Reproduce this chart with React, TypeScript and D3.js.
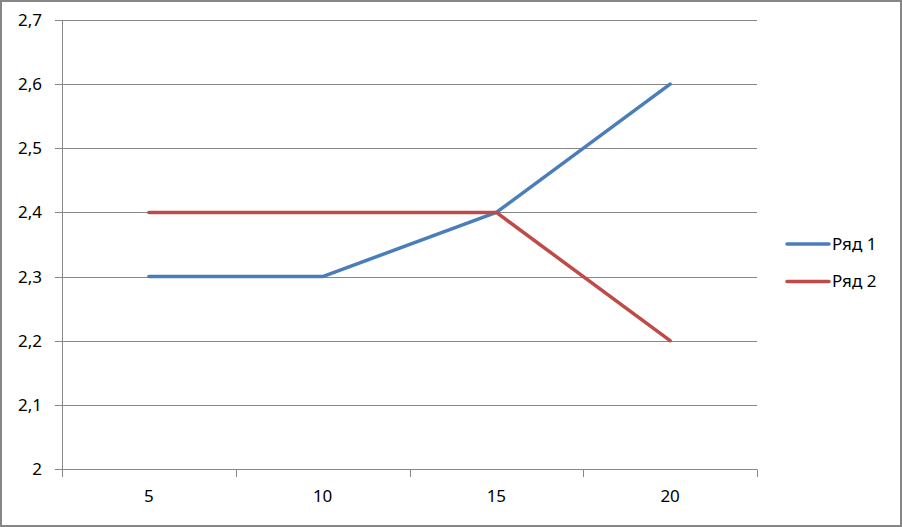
import * as React from 'react';
import * as d3 from 'd3';

const categories = ['5', '10', '15', '20'];
const seriesNames = ['Ряд 1', 'Ряд 2'];
const series1 = [2.3, 2.3, 2.4, 2.6];
const series2 = [2.4, 2.4, 2.4, 2.2];
const yTicks = [2, 2.1, 2.2, 2.3, 2.4, 2.5, 2.6, 2.7];
const colors = ['#4a7ebb', '#be4b48'];

const width = 902;
const height = 527;
const plot = { left: 62, right: 757, top: 20, bottom: 469 };
const font = '"Noto Sans", sans-serif';
const gridColor = '#868686';

const fmt = (v: number) => (Math.round(v * 10) / 10).toString().replace('.', ',');
const crisp = (v: number) => Math.round(v) + 0.5;

export default function App() {
    const x = d3.scalePoint<string>()
        .domain(categories)
        .range([plot.left, plot.right])
        .padding(0.5);
    const step = x.step();

    const y = d3.scaleLinear()
        .domain([2, 2.7])
        .range([plot.bottom, plot.top]);

    const line = d3.line<number>()
        .x((d, i) => x(categories[i]) as number)
        .y(d => y(d));

    const allSeries = [series1, series2];
    const boundaries = d3.range(categories.length + 1).map(i => plot.left + i * step);

    return (
        <svg width={width} height={height} style={{ position: 'absolute', left: 0, top: 0, background: '#fff' }}>
            <rect x={1} y={1} width={width - 2} height={height - 2} fill="#fff" stroke={gridColor} strokeWidth={2} />

            {/* gridlines + y labels */}
            {yTicks.map(t => (
                <g key={t}>
                    <line x1={plot.left - 7} x2={plot.right} y1={crisp(y(t))} y2={crisp(y(t))} stroke={gridColor} strokeWidth={1} />
                    <text x={42} y={y(t)} dy="0.35em" textAnchor="end" fontFamily={font} fontSize={17} fill="#000">{fmt(t)}</text>
                </g>
            ))}

            {/* y axis */}
            <line x1={crisp(plot.left)} x2={crisp(plot.left)} y1={plot.top} y2={crisp(plot.bottom)} stroke={gridColor} />

            {/* x axis ticks + labels */}
            {boundaries.map((b, i) => (
                <line key={i} x1={crisp(b)} x2={crisp(b)} y1={crisp(plot.bottom)} y2={plot.bottom + 8} stroke={gridColor} />
            ))}
            {categories.map(c => (
                <text key={c} x={x(c)} y={502} textAnchor="middle" fontFamily={font} fontSize={17} fill="#000">{c}</text>
            ))}

            {/* series */}
            {allSeries.map((s, i) => (
                <path key={i} d={line(s) || ''} fill="none" stroke={colors[i]} strokeWidth={3.5} strokeLinejoin="round" strokeLinecap="round" />
            ))}

            {/* legend */}
            {seriesNames.map((n, i) => {
                const ly = 244 + i * 37.5;
                return (
                    <g key={n}>
                        <line x1={787} x2={829} y1={ly} y2={ly} stroke={colors[i]} strokeWidth={3.5} strokeLinecap="round" />
                        <text x={832} y={ly} dy="0.35em" fontFamily={font} fontSize={17} fill="#000">{n}</text>
                    </g>
                );
            })}
        </svg>
    );
}
